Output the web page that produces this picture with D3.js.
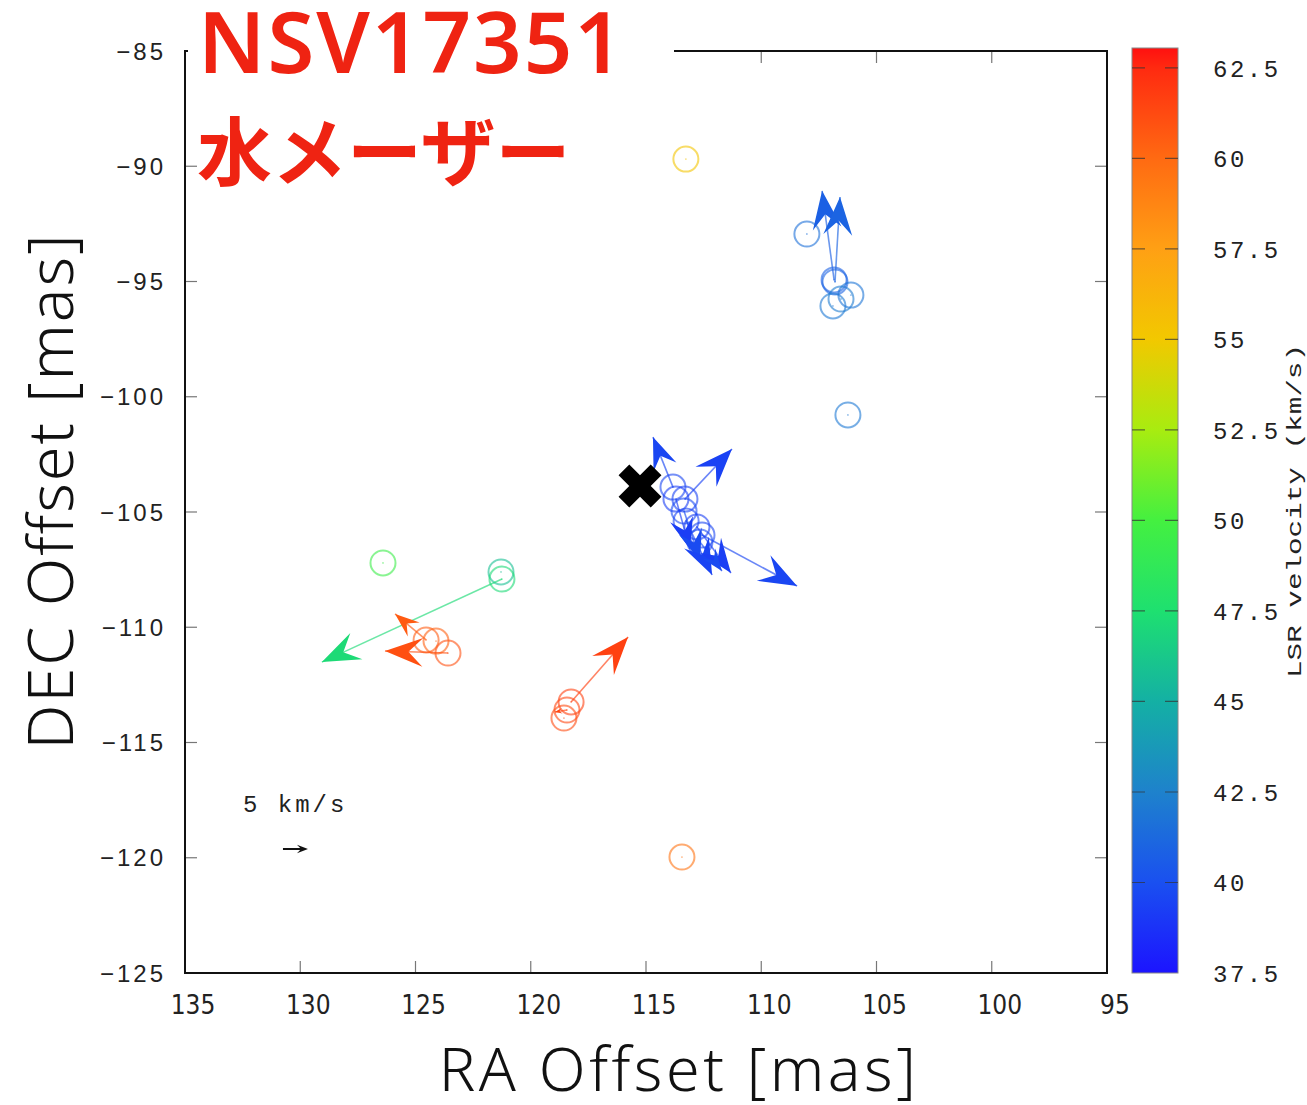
<!DOCTYPE html>
<html>
<head>
<meta charset="utf-8">
<title>NSV17351</title>
<style>
  body { margin: 0; background: #fff; }
</style>
</head>
<body>
<script src="https://cdn.jsdelivr.net/npm/d3@7/dist/d3.min.js"></script>
<script>
var width = 1307, height = 1105;

// maser spots: offsets [mas], LSR velocity [km/s], proper motion [km/s] (null = no motion measured)
var spotRA   = [113.27, 108.02, 106.84, 106.80, 106.89, 106.54, 106.11, 106.24,
                113.83, 113.31, 113.70, 113.35, 113.26, 112.79, 112.57, 112.66,
                126.41, 121.29, 121.25,
                124.54, 124.11, 123.59, 118.25, 118.43, 118.56, 113.44];
var spotDEC  = [-89.69, -92.94, -94.93, -95.02, -96.06, -95.76, -95.59, -100.79,
                -103.92, -104.44, -104.44, -104.96, -105.39, -105.65, -106.00, -106.30,
                -107.21, -107.60, -107.91,
                -110.55, -110.60, -111.12, -113.24, -113.59, -113.94, -119.97];
var spotVlsr = [55.2, 41.6, 40.8, 41.0, 42.0, 42.2, 41.8, 42.0,
                39.6, 39.4, 39.2, 39.8, 39.5, 39.3, 39.6, 39.8,
                49.5, 45.8, 47.2,
                60.6, 60.4, 61.0, 61.6, 61.4, 61.2, 59.6];
var spotVRA  = [null, null, 2.4, -1.0, null, null, null, null,
                4.0, -9.4, -2.8, -3.2, -5.2, -6.8, -19.0, -4.4,
                null, null, 36.0,
                6.2, null, 12.6, -11.4, 2.4, null, null];
var spotVDEC = [null, null, 17.8, 17.0, null, null, null, null,
                10.0, 10.0, -10.0, -10.0, -10.8, -9.2, -10.2, -5.8,
                null, null, -16.6,
                5.2, null, 0.4, 13.0, -0.4, null, null];

var starRA = 115.26, starDEC = -103.87;   // central star
var refSpeed = 5;                          // km/s, reference arrow
var refRA = 130.75, refDEC = -119.62;

var xTicks = [135, 130, 125, 120, 115, 110, 105, 100, 95];
var yTicks = [-85, -90, -95, -100, -105, -110, -115, -120, -125];
var cbTicks = [37.5, 40, 42.5, 45, 47.5, 50, 52.5, 55, 57.5, 60, 62.5];
var cbStopV = [37.5, 40, 42.5, 45, 47.5, 50, 52.5, 55, 57.5, 60, 62.5, 63.05];
var cbStopC = ["#1c14ff", "#1a50f0", "#1e82cc", "#14b0a4", "#1ee070", "#44f040",
               "#a8ec10", "#f2c800", "#ffa014", "#ff6a12", "#ff2a10", "#ff1010"];

var svg = d3.select("body").append("svg")
    .attr("width", width)
    .attr("height", height);

var x = d3.scaleLinear().domain([135, 95]).range([185, 1107]);
var y = d3.scaleLinear().domain([-85, -125]).range([51, 973]);
var color = d3.scaleLinear().domain(cbStopV).range(cbStopC);
var kmsToMas = 0.217;

// frame + ticks
var frame = svg.append("g");
frame.selectAll(".xt").data(xTicks).enter().append("line")
    .attr("x1", d => x(d)).attr("x2", d => x(d))
    .attr("y1", 973).attr("y2", 961)
    .attr("stroke", "#777").attr("stroke-width", 1.2);
frame.selectAll(".xt2").data(xTicks).enter().append("line")
    .attr("x1", d => x(d)).attr("x2", d => x(d))
    .attr("y1", 51).attr("y2", 63)
    .attr("stroke", "#777").attr("stroke-width", 1.2);
frame.selectAll(".yt").data(yTicks).enter().append("line")
    .attr("x1", 185).attr("x2", 197)
    .attr("y1", d => y(d)).attr("y2", d => y(d))
    .attr("stroke", "#777").attr("stroke-width", 1.2);
frame.selectAll(".yt2").data(yTicks).enter().append("line")
    .attr("x1", 1107).attr("x2", 1095)
    .attr("y1", d => y(d)).attr("y2", d => y(d))
    .attr("stroke", "#777").attr("stroke-width", 1.2);
frame.append("rect")
    .attr("x", 185).attr("y", 51).attr("width", 922).attr("height", 922)
    .attr("fill", "none").attr("stroke", "#111").attr("stroke-width", 2);

svg.selectAll(".xl").data(xTicks).enter().append("text")
    .attr("x", d => x(d) + 8).attr("y", 1014)
    .attr("text-anchor", "middle")
    .attr("font-family", "DejaVu Sans Condensed")
    .attr("font-size", 26).attr("fill", "#222")
    .text(d => d);
svg.selectAll(".yl").data(yTicks).enter().append("text")
    .attr("x", 166).attr("y", d => y(d)).attr("dy", "0.36em")
    .attr("text-anchor", "end")
    .attr("font-family", "Liberation Sans")
    .attr("font-size", 24).attr("letter-spacing", 3).attr("fill", "#222")
    .text(d => String(d).replace("-", "\u2212"));

// arrows
function headPath(x0, y0, x1, y1, maxL) {
    var dx = x1 - x0, dy = y1 - y0, len = Math.sqrt(dx * dx + dy * dy);
    var ux = dx / len, uy = dy / len, nx = -uy, ny = ux;
    var L = Math.min(maxL || 38, len * 0.6), W = L * 0.38, N = L * 0.62;
    return "M" + x1 + "," + y1 +
        "L" + (x1 - L * ux + W * nx) + "," + (y1 - L * uy + W * ny) +
        "L" + (x1 - N * ux) + "," + (y1 - N * uy) +
        "L" + (x1 - L * ux - W * nx) + "," + (y1 - L * uy - W * ny) + "Z";
}

var spots = spotRA.map(function(d, i) {
    return {ra: d, dec: spotDEC[i], v: spotVlsr[i], vra: spotVRA[i], vdec: spotVDEC[i]};
});

var gs = svg.append("g");
gs.selectAll("circle.spot").data(spots).enter().append("circle")
    .attr("class", "spot")
    .attr("cx", d => x(d.ra)).attr("cy", d => y(d.dec)).attr("r", 12.5)
    .attr("fill", "none")
    .attr("stroke", d => color(d.v))
    .attr("stroke-opacity", 0.6).attr("stroke-width", 2);
gs.selectAll("circle.dot").data(spots).enter().append("circle")
    .attr("cx", d => x(d.ra)).attr("cy", d => y(d.dec)).attr("r", 0.9)
    .attr("fill", d => color(d.v)).attr("opacity", 0.5);

var moving = spots.filter(d => d.vra !== null);
gs.selectAll("line.pm").data(moving).enter().append("line")
    .attr("x1", d => x(d.ra)).attr("y1", d => y(d.dec))
    .attr("x2", d => x(d.ra + d.vra * kmsToMas))
    .attr("y2", d => y(d.dec + d.vdec * kmsToMas))
    .attr("stroke", d => color(d.v))
    .attr("stroke-opacity", 0.65).attr("stroke-width", 1.6);
gs.selectAll("path.head").data(moving).enter().append("path")
    .attr("d", d => headPath(x(d.ra), y(d.dec),
        x(d.ra + d.vra * kmsToMas), y(d.dec + d.vdec * kmsToMas)))
    .attr("fill", d => color(d.v));

// star
svg.append("path")
    .attr("d", d3.symbol(d3.symbolCross, 1150)())
    .attr("transform", "translate(" + x(starRA) + "," + y(starDEC) + ") rotate(45)")
    .attr("fill", "#000");

// reference arrow
svg.append("text")
    .attr("x", 243).attr("y", 812)
    .attr("font-family", "Liberation Mono")
    .attr("font-size", 24).attr("letter-spacing", 3).attr("fill", "#222")
    .text(refSpeed + " km/s");
svg.append("line")
    .attr("x1", x(refRA)).attr("y1", y(refDEC))
    .attr("x2", x(refRA - refSpeed * kmsToMas) - 3).attr("y2", y(refDEC))
    .attr("stroke", "#111").attr("stroke-width", 2);
svg.append("path")
    .attr("d", headPath(x(refRA), y(refDEC), x(refRA - refSpeed * kmsToMas), y(refDEC), 11))
    .attr("fill", "#111");

// colorbar
var cb = d3.scaleLinear().domain([37.5, 63.05]).range([973, 48]);
var grad = svg.append("defs").append("linearGradient")
    .attr("id", "cbgrad").attr("x1", 0).attr("y1", 1).attr("x2", 0).attr("y2", 0);
grad.selectAll("stop").data(cbStopV).enter().append("stop")
    .attr("offset", d => (d - 37.5) / (63.05 - 37.5))
    .attr("stop-color", d => color(d));
svg.append("rect")
    .attr("x", 1132).attr("y", 48).attr("width", 46).attr("height", 925)
    .attr("fill", "url(#cbgrad)").attr("stroke", "#888").attr("stroke-width", 1);
svg.selectAll(".cbt").data(cbTicks.slice(1)).enter().append("path")
    .attr("d", d => "M1132," + cb(d) + "h13M1178," + cb(d) + "h-13")
    .attr("stroke", "#333").attr("stroke-opacity", 0.7).attr("stroke-width", 1.2);
svg.selectAll(".cbl").data(cbTicks).enter().append("text")
    .attr("x", 1213).attr("y", d => cb(d)).attr("dy", "0.36em")
    .attr("font-family", "Liberation Mono")
    .attr("font-size", 24).attr("letter-spacing", 2.5).attr("fill", "#222")
    .text(d => d);
svg.append("text")
    .attr("transform", "translate(1301,511) rotate(-90)")
    .attr("text-anchor", "middle")
    .attr("font-family", "Liberation Mono")
    .attr("font-size", 21).attr("fill", "#222")
    .attr("textLength", 334).attr("lengthAdjust", "spacingAndGlyphs")
    .text("LSR velocity (km/s)");

// axis titles
svg.append("text")
    .attr("x", 679).attr("y", 1091)
    .attr("text-anchor", "middle")
    .attr("font-family", "Noto Sans").attr("font-weight", 300)
    .attr("font-size", 61).attr("letter-spacing", 3.5).attr("fill", "#111")
    .text("RA Offset [mas]");
svg.append("text")
    .attr("transform", "translate(73,491) rotate(-90)")
    .attr("text-anchor", "middle")
    .attr("font-family", "Noto Sans").attr("font-weight", 300)
    .attr("font-size", 63).attr("letter-spacing", 2).attr("fill", "#111")
    .text("DEC Offset [mas]");

// title block
svg.append("rect")
    .attr("x", 188).attr("y", 0).attr("width", 486).attr("height", 70)
    .attr("fill", "#fff");
svg.append("text")
    .attr("x", 198).attr("y", 73)
    .attr("font-family", "Noto Sans").attr("font-weight", 600)
    .attr("font-size", 85).attr("letter-spacing", 2).attr("fill", "#ef2312")
    .text("NSV17351");
svg.append("text")
    .attr("x", 197).attr("y", 180)
    .attr("font-family", "Noto Sans CJK JP").attr("font-weight", 700)
    .attr("font-size", 75).attr("fill", "#ef2312")
    .text("水メーザー");
</script>
</body>
</html>
